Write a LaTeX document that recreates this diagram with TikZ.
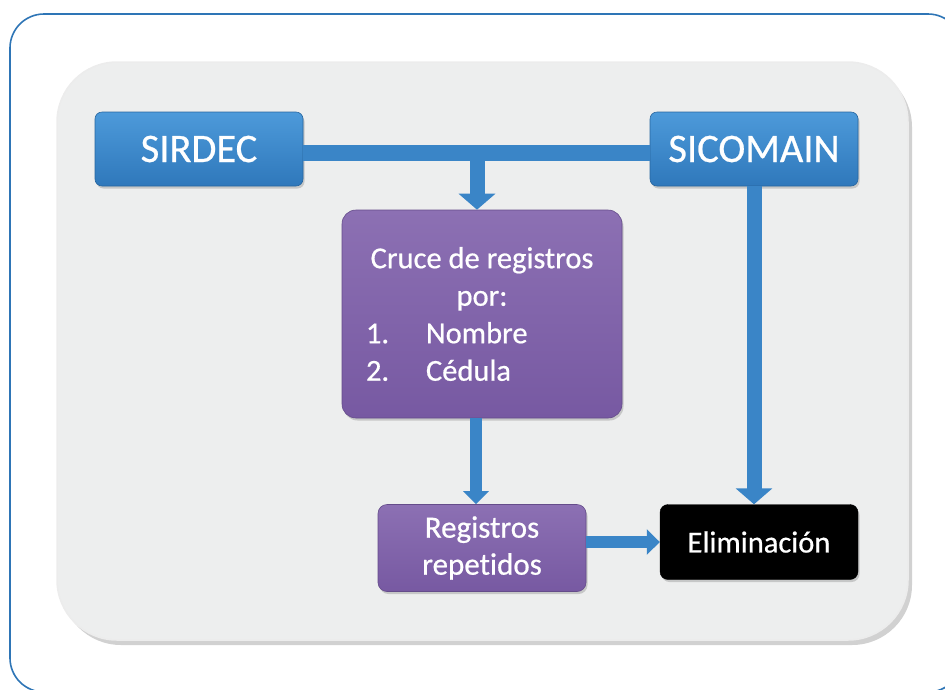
\documentclass[tikz,border=0pt]{standalone}
\usepackage{fontspec}
\setmainfont{Carlito}[Ligatures=NoCommon, FakeBold=0.6]
\usetikzlibrary{arrows.meta,shadows}
\definecolor{frameblue}{HTML}{2E75B6}
\definecolor{panelgray}{HTML}{EDEEEE}
\definecolor{boxblueT}{HTML}{4D9ADA}
\definecolor{boxblueB}{HTML}{2F78BB}
\definecolor{arrowblue}{HTML}{3A85C7}
\definecolor{purpT}{HTML}{8C70B3}
\definecolor{purpB}{HTML}{7759A2}
\tikzset{
  bluebox/.style={rounded corners=7pt, top color=boxblueT, bottom color=boxblueB,
    draw=boxblueB!85!black, line width=0.6pt, text=white, font=\fontsize{40.5}{44}\selectfont,
    minimum width=208pt, minimum height=74pt, inner sep=0pt,
    drop shadow={shadow xshift=1.5pt,shadow yshift=-2.5pt,opacity=0.35}},
  purplebox/.style={rounded corners=14pt, top color=purpT, bottom color=purpB,
    draw=purpB!85!black, line width=0.6pt, text=white, font=\fontsize{30.5}{37.5}\selectfont,
    inner sep=0pt, align=center,
    drop shadow={shadow xshift=1.5pt,shadow yshift=-2.5pt,opacity=0.35}},
  blackbox/.style={rounded corners=8pt, fill=black, draw=black, text=white,
    font=\fontsize{30.5}{34}\selectfont, minimum width=198pt, minimum height=75pt, inner sep=0pt,
    drop shadow={shadow xshift=1.5pt,shadow yshift=-2.5pt,opacity=0.35}},
  bigarrow/.style={draw=arrowblue, line width=15pt, -{Triangle[width=36pt,length=16pt]}},
  smallarrow/.style={draw=arrowblue, line width=12pt, -{Triangle[width=25pt,length=13pt]}},
  barline/.style={draw=arrowblue, line width=16pt},
}
\begin{document}
\begin{tikzpicture}[x=1pt,y=-1pt]
\useasboundingbox (0,0) rectangle (945,689);
% outer frame
\begin{scope}
\clip (0,0) rectangle (945,689);
\draw[frameblue, line width=1.6pt, rounded corners=34pt] (10,14) rectangle (962,692);
\end{scope}
% gray panel
\fill[rounded corners=60pt, gray!60, opacity=0.6] (61,67) rectangle (912,645);
\draw[rounded corners=60pt, fill=panelgray, draw=white!85!gray, line width=1.5pt] (57,62) rectangle (908,640);
% nodes
\node[bluebox] (sirdec) at (199,149) {SIRDEC};
\node[bluebox] (sicomain) at (754,149) {SICOMAIN};
\node[purplebox, minimum width=280pt, minimum height=208pt] (cruce) at (482,314)
  {Cruce de registros\\ por:\\
   \makebox[232pt][l]{\makebox[60pt][l]{1.}Nombre}\\
   \makebox[232pt][l]{\makebox[60pt][l]{2.}Cédula}};
\node[purplebox, rounded corners=9pt, minimum width=208pt, minimum height=87pt,
  font=\fontsize{31}{37}\selectfont] (reg) at (482,548) {Registros\\ repetidos};
\node[blackbox] (elim) at (759,542) {Eliminación};
% connectors
\coordinate (j) at (477,153);
\draw[barline] (sirdec.east |- j) -- (sicomain.west |- j);
\draw[bigarrow] (j) -- (j |- cruce.north);
\draw[bigarrow] (sicomain.south) -- (sicomain.south |- elim.north);
\draw[smallarrow] ([xshift=-6pt]cruce.south) -- ([xshift=-6pt]reg.north);
\draw[smallarrow] (reg.east |- elim.west) -- (elim.west);
\end{tikzpicture}
\end{document}
